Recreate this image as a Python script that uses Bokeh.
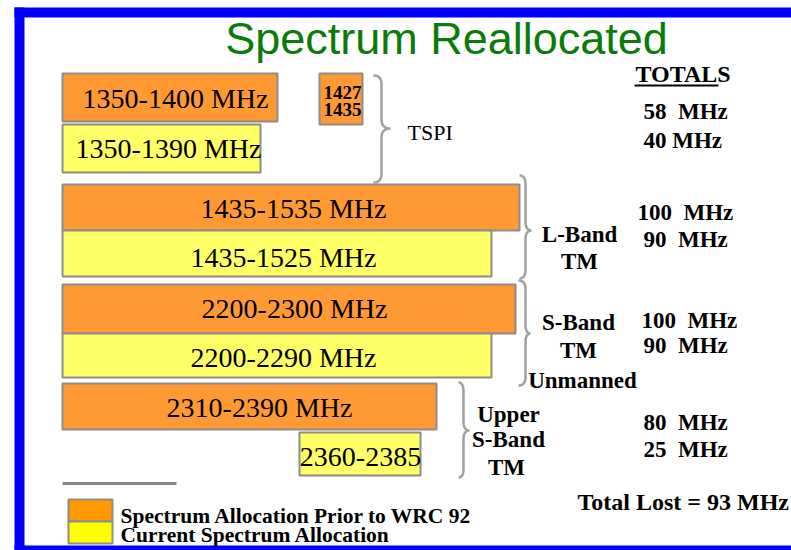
import numpy as np
from bokeh.plotting import figure
from bokeh.models import Range1d, ColumnDataSource
from bokeh.core.properties import value
from bokeh.embed import file_html
from bokeh.resources import INLINE

NB = "\u00a0"

# ---------------- data ----------------
title_text = "Spectrum Reallocated"

# allocations prior to WRC 92 (orange) - drawn extents in chart units
prior_labels = ["1350-1400 MHz", "1435-1535 MHz", "2200-2300 MHz", "2310-2390 MHz"]
prior_start = [62, 62, 62, 62]
prior_end = [277, 519, 515, 436]

# current allocations (yellow)
current_labels = ["1350-1390 MHz", "1435-1525 MHz", "2200-2290 MHz", "2360-2385"]
current_start = [62, 62, 62, 299]
current_end = [260, 491, 491, 420]

# small prior block 1427-1435
small_label = ["1427", "1435"]
small_start = [319]
small_end = [362]

group_names = [["TSPI"], ["L-Band", "TM"], ["S-Band", "TM", "Unmanned"], ["Upper", "S-Band", "TM"]]
totals_prior = ["58" + NB + NB + "MHz", "100" + NB + NB + "MHz", "100" + NB + NB + "MHz", "80" + NB + NB + "MHz"]
totals_current = ["40" + NB + "MHz", "90" + NB + NB + "MHz", "90" + NB + NB + "MHz", "25" + NB + NB + "MHz"]
totals_header = "TOTALS"
total_lost = "Total Lost = 93 MHz"
legend_labels = ["Spectrum Allocation Prior to WRC 92", "Current Spectrum Allocation"]

# ---------------- layout ----------------
prior_rows = [(73, 121), (184, 230), (284, 333), (383, 429)]
current_rows = [(124, 172), (230, 276), (333, 377), (432, 475)]
small_row = (73, 124)
prior_label_xy = [(175, 98), (293, 208), (294, 308), (259, 407)]
current_label_xy = [(168, 148), (283, 257), (283, 357), (360, 456)]

ORANGE = "#FF9933"
YELLOW = "#FFFF66"
EDGE = "#8C8C8C"
SERIF = value("Liberation Serif")

p = figure(width=791, height=550, output_backend="svg", toolbar_location=None,
           x_range=Range1d(0, 791), y_range=Range1d(550, 0),
           x_axis_type=None, y_axis_type=None, min_border=0,
           background_fill_color="white", border_fill_color="white",
           outline_line_color=None)

# blue frame
frame = ColumnDataSource(dict(left=[14, 14, 14], right=[24, 791, 791],
                              top=[7, 7, 545], bottom=[550, 17, 550]))
p.quad(left="left", right="right", top="top", bottom="bottom", source=frame,
       fill_color="#0000FF", line_color=None)

# title
p.text(x=[446], y=[38], text=[title_text], text_font=value("Liberation Sans"),
       text_font_size="45px", text_color="#0A7A0A", text_align="center",
       text_baseline="middle")

# bars
pb = ColumnDataSource(dict(left=prior_start, right=prior_end,
                           top=[r[0] for r in prior_rows], bottom=[r[1] for r in prior_rows]))
p.quad(left="left", right="right", top="top", bottom="bottom", source=pb,
       fill_color=ORANGE, line_color=EDGE, line_width=2)
cb = ColumnDataSource(dict(left=current_start, right=current_end,
                           top=[r[0] for r in current_rows], bottom=[r[1] for r in current_rows]))
p.quad(left="left", right="right", top="top", bottom="bottom", source=cb,
       fill_color=YELLOW, line_color=EDGE, line_width=2)
p.quad(left=small_start, right=small_end, top=[small_row[0]], bottom=[small_row[1]],
       fill_color=ORANGE, line_color=EDGE, line_width=2)

# bar labels
p.text(x=[a for a, b in prior_label_xy], y=[b for a, b in prior_label_xy], text=prior_labels,
       text_font=SERIF, text_font_size="28px", text_color="black",
       text_align="center", text_baseline="middle")
p.text(x=[a for a, b in current_label_xy], y=[b for a, b in current_label_xy], text=current_labels,
       text_font=SERIF, text_font_size="28px", text_color="black",
       text_align="center", text_baseline="middle")
p.text(x=[342, 342], y=[92, 109], text=small_label, text_font=SERIF,
       text_font_style="bold", text_font_size="19px", text_color="black",
       text_align="center", text_baseline="middle")

# braces
def brace_points(x_end, x_v, x_tip, y_top, y_mid, y_bot, r=9, n=12):
    t = np.linspace(0, 1, n)
    def qb(p0, p1, p2):
        return ((1 - t) ** 2 * p0[0] + 2 * (1 - t) * t * p1[0] + t ** 2 * p2[0],
                (1 - t) ** 2 * p0[1] + 2 * (1 - t) * t * p1[1] + t ** 2 * p2[1])
    segs = [
        qb((x_end, y_top), (x_v, y_top), (x_v, y_top + r)),
        qb((x_v, y_mid - r), (x_v, y_mid), (x_tip, y_mid)),
        qb((x_tip, y_mid), (x_v, y_mid), (x_v, y_mid + r)),
        qb((x_v, y_bot - r), (x_v, y_bot), (x_end, y_bot)),
    ]
    xs = np.concatenate([s[0] for s in segs])
    ys = np.concatenate([s[1] for s in segs])
    return list(xs), list(ys)

brace_specs = [(373, 381, 390, 75, 128, 182),
               (519, 525, 531, 175, 230, 278),
               (518, 525, 530, 280, 333, 385),
               (458, 463, 469, 382, 430, 477)]
bx, by = [], []
for spec in brace_specs:
    xs, ys = brace_points(*spec)
    bx.append(xs)
    by.append(ys)
p.multi_line(xs=bx, ys=by, line_color="#A0A0A0", line_width=2.5)

# group names
p.text(x=[407], y=[132], text=group_names[0], text_font=SERIF, text_font_size="22px",
       text_color="black", text_align="left", text_baseline="middle")
gx = [579, 579, 578, 578, 582, 508, 508, 506]
gy = [233.5, 261, 321.5, 350, 379.5, 413.5, 438.5, 466.5]
gt = group_names[1] + group_names[2] + group_names[3]
p.text(x=gx, y=gy, text=gt, text_font=SERIF, text_font_style="bold",
       text_font_size="23px", text_color="black", text_align="center",
       text_baseline="middle")

# totals
p.text(x=[635], y=[73.5], text=[totals_header], text_font=SERIF, text_font_style="bold",
       text_font_size="24px", text_color="black", text_align="left", text_baseline="middle")
p.segment(x0=[634], y0=[85], x1=[718], y1=[85], line_color="black", line_width=2)
tx_p = [643, 637, 641, 643]
ty_p = [110.5, 211.5, 319.5, 421.5]
tx_c = [643, 643, 643, 643]
ty_c = [139.5, 238.5, 345, 448.5]
p.text(x=tx_p, y=ty_p, text=totals_prior, text_font=SERIF, text_font_style="bold",
       text_font_size="23px", text_color="black", text_align="left", text_baseline="middle")
p.text(x=tx_c, y=ty_c, text=totals_current, text_font=SERIF, text_font_style="bold",
       text_font_size="23px", text_color="black", text_align="left", text_baseline="middle")
p.text(x=[577], y=[501], text=[total_lost], text_font=SERIF, text_font_style="bold",
       text_font_size="24px", text_color="black", text_align="left", text_baseline="middle")

# separator line and legend
p.segment(x0=[62], y0=[483], x1=[176], y1=[483], line_color="#888888", line_width=3)
p.quad(left=[68, 68], right=[112, 112], top=[499, 521], bottom=[521, 543],
       fill_color=["#FF9900", "#FFFF00"], line_color=EDGE, line_width=2)
p.text(x=[120, 120], y=[515, 534.5], text=legend_labels, text_font=SERIF,
       text_font_style="bold", text_font_size="21.5px", text_color="black",
       text_align="left", text_baseline="middle")

open("out.html", "w").write(file_html(p, INLINE))
